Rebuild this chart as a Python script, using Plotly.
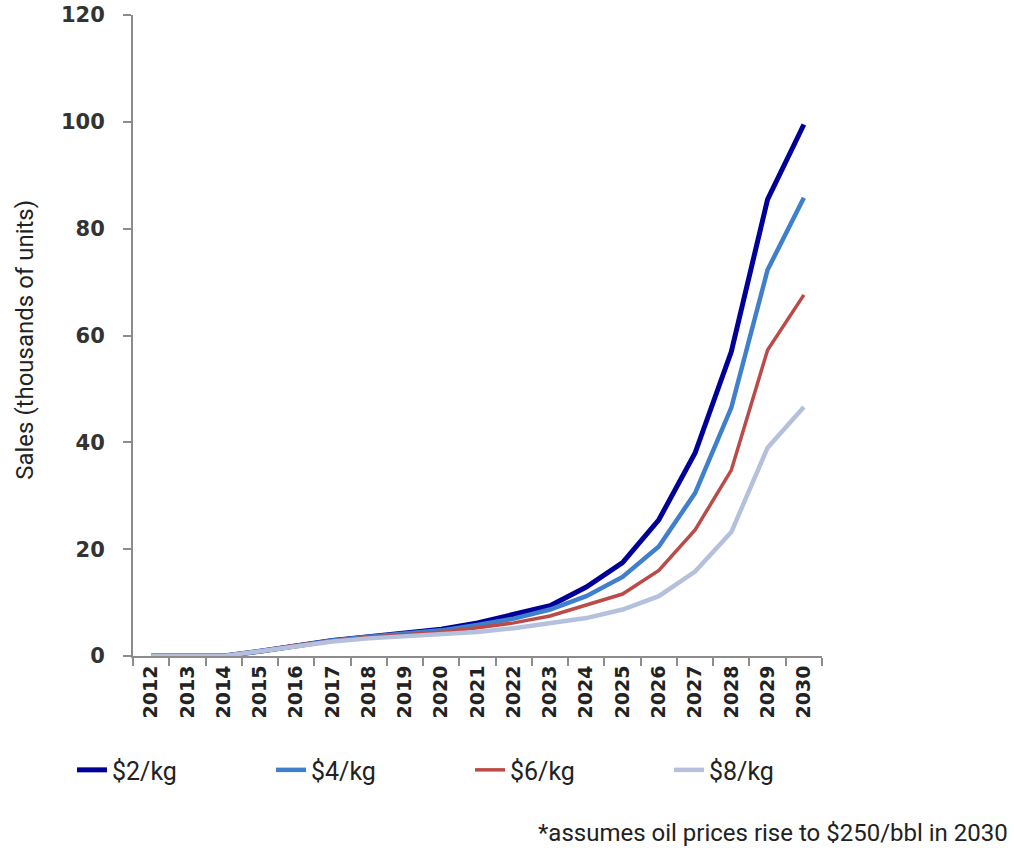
import plotly.graph_objects as go

years = [str(y) for y in range(2012, 2031)]
s2 = [0, 0, 0, 0.9, 2.0, 2.9, 3.6, 4.2, 5.0, 6.2, 7.7, 9.4, 12.9, 17.5, 25.5, 38.0, 57.0, 85.5, 99.5]
s4 = [0, 0, 0, 0.9, 2.0, 2.9, 3.6, 4.1, 4.8, 5.8, 7.0, 8.7, 11.2, 14.8, 20.5, 30.5, 46.5, 72.3, 85.8]
s6 = [0, 0, 0, 0.9, 2.0, 2.8, 3.5, 4.0, 4.5, 5.3, 6.2, 7.5, 9.6, 11.6, 16.0, 23.6, 34.8, 57.3, 67.6]
s8 = [0, 0, 0, 0.9, 1.9, 2.7, 3.3, 3.7, 4.0, 4.5, 5.2, 6.2, 7.1, 8.7, 11.2, 15.8, 23.2, 39.0, 46.6]

names = ["$2/kg", "$4/kg", "$6/kg", "$8/kg"]
colors = ["#000099", "#3f7fcc", "#bb4b48", "#b5c0dd"]
widths = [5, 4.5, 3.5, 4.5]
series = [s2, s4, s6, s8]

fig = go.Figure()
for n, s, c, w in zip(names, series, colors, widths):
    fig.add_trace(go.Scatter(x=years, y=s, name=n, mode="lines",
                             line=dict(color=c, width=w)))

fig.update_layout(
    width=1014, height=856,
    margin=dict(l=133, r=192, t=15, b=200),
    paper_bgcolor="white", plot_bgcolor="white",
    showlegend=True,
    legend=dict(orientation="h", x=-0.0885, y=-0.178, xanchor="left", yanchor="middle",
                font=dict(family="Roboto, sans-serif", size=25, color="#222"),
                entrywidth=154, entrywidthmode="pixels", bgcolor="rgba(0,0,0,0)"),
    xaxis=dict(type="category", range=[-0.5, 18.5], tickson="boundaries", automargin=False,
               showline=True, linecolor="#8c8c8c", linewidth=2,
               ticks="outside", ticklen=8, tickcolor="#8c8c8c", tickwidth=1.5,
               tickangle=-90, showgrid=False, zeroline=False,
               tickfont=dict(family="DejaVu Sans, sans-serif", size=19, color="#222", weight="bold")),
    yaxis=dict(range=[0, 120], dtick=20, showline=True, linecolor="#8c8c8c", linewidth=2,
               ticks="outside", ticklen=8, tickcolor="#8c8c8c", tickwidth=1.5, automargin=False,
               ticklabelstandoff=14,
               showgrid=False, zeroline=False,
               tickfont=dict(family="DejaVu Sans, sans-serif", size=21, color="#333", weight="bold")),
)

fig.add_annotation(text="Sales (thousands of units)", textangle=-90,
                   xref="paper", yref="paper", x=-0.157, y=0.493,
                   xanchor="center", yanchor="middle", showarrow=False,
                   font=dict(family="Roboto, sans-serif", size=24, color="#222"))
fig.add_annotation(text="*assumes oil prices rise to $250/bbl in 2030",
                   xref="paper", yref="paper", x=1.273, y=-0.276,
                   xanchor="right", yanchor="middle", showarrow=False,
                   font=dict(family="Roboto, sans-serif", size=24, color="#222"))

fig.write_html("out.html")
